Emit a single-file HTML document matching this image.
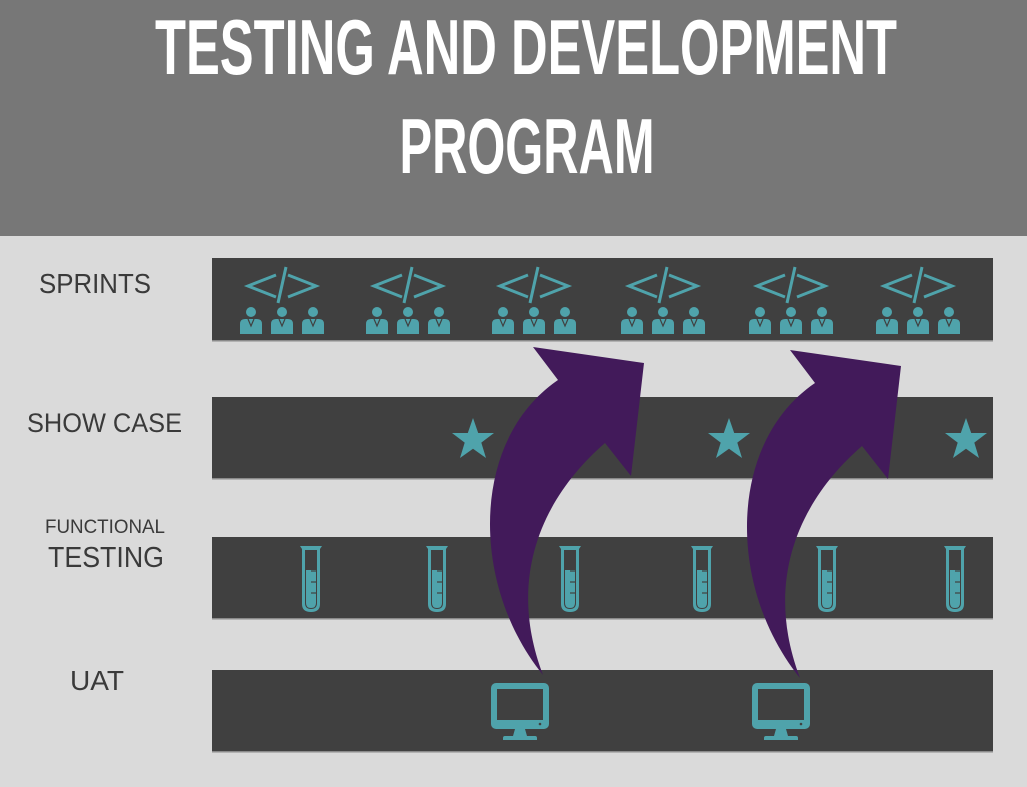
<!DOCTYPE html>
<html><head><meta charset="utf-8"><style>
html,body{margin:0;padding:0;width:1027px;height:787px;overflow:hidden;background:#dadada}
svg{display:block}
</style></head><body>
<svg width="1027" height="787" viewBox="0 0 1027 787" xmlns="http://www.w3.org/2000/svg">
<defs>
<g id="code" fill="none" stroke="#4fa3ab" stroke-width="3">
<polyline points="-6,-22 -34,-11 -6,0"/>
<polyline points="6,-22 34,-11 6,0"/>
<line x1="4" y1="-30" x2="-4" y2="6"/>
</g>
<g id="person" fill="#4fa3ab">
<circle cx="0" cy="-10" r="5"/>
<path d="M-11,12 L-11,2 Q-11,-3 -6,-3 L6,-3 Q11,-3 11,2 L11,12 Z"/>
<path d="M-3,-3 L0,4 L3,-3" fill="none" stroke="#404040" stroke-width="1.2"/>
</g>
<g id="team">
<use href="#code" y="0"/>
<use href="#person" x="-31" y="25"/>
<use href="#person" x="0" y="25"/>
<use href="#person" x="31" y="25"/>
</g>
<polygon id="star" fill="#4fa3ab" points="0,-22 5.2,-7 21,-7 8.3,2.6 13,18 0,8.8 -13,18 -8.3,2.6 -21,-7 -5.2,-7"/>
<g id="tube">
<path d="M-11,-32 L11,-32 L9,-29 L9,26 Q9,34 0,34 Q-9,34 -9,26 L-9,-29 Z" fill="#4fa3ab"/>
<path d="M-6,-28 L6,-28 L6,25 Q6,31 0,31 Q-6,31 -6,25 Z" fill="#404040"/>
<path d="M-5,-8 L5,-8 L5,25 Q5,30 0,30 Q-5,30 -5,25 Z" fill="#4fa3ab"/>
<g stroke="#404040" stroke-width="1.2"><line x1="0" y1="-19" x2="6" y2="-19"/><line x1="0" y1="-7" x2="6" y2="-7"/><line x1="0" y1="4" x2="6" y2="4"/><line x1="0" y1="15" x2="6" y2="15"/></g>
</g>
<g id="mon">
<rect x="-29" y="-29" width="58" height="46" rx="5" fill="#4fa3ab"/>
<rect x="-23" y="-23" width="46" height="31" fill="#404040"/>
<circle cx="20" cy="12" r="1.3" fill="#404040"/>
<path d="M-5,17 L5,17 L7,24 L15,24 Q17,24 17,26 L17,28 L-17,28 L-17,26 Q-17,24 -15,24 L-7,24 Z" fill="#4fa3ab"/>
</g>
<path id="arrow" fill="#421a5a" d="M543,675 C470,585 470,440 558,380 L533,347 L644,363 L631,476 L605,443 C545,495 505,575 543,675 Z"/>
</defs>
<rect x="0" y="0" width="1027" height="236" fill="#777777"/>
<text x="526" y="74" text-anchor="middle" textLength="742" lengthAdjust="spacingAndGlyphs" font-family="Liberation Sans Narrow, Liberation Sans, sans-serif" font-weight="bold" font-size="78" fill="#fff">TESTING AND DEVELOPMENT</text>
<text x="527" y="173" text-anchor="middle" textLength="255" lengthAdjust="spacingAndGlyphs" font-family="Liberation Sans Narrow, Liberation Sans, sans-serif" font-weight="bold" font-size="78" fill="#fff">PROGRAM</text>

<g fill="#404040">
<rect x="212" y="258" width="781" height="83"/>
<rect x="212" y="397" width="781" height="82"/>
<rect x="212" y="537" width="781" height="82"/>
<rect x="212" y="670" width="781" height="82"/>
</g>
<g fill="#8a8a8a">
<rect x="212" y="340" width="781" height="1.5"/>
<rect x="212" y="478" width="781" height="1.5"/>
<rect x="212" y="618" width="781" height="1.5"/>
<rect x="212" y="751" width="781" height="1.5"/>
</g>

<g font-family="Liberation Sans, sans-serif" fill="#3a3a3a">
<text x="39" y="293" font-size="28" textLength="112" lengthAdjust="spacingAndGlyphs">SPRINTS</text>
<text x="27" y="432" font-size="27" textLength="155" lengthAdjust="spacingAndGlyphs">SHOW CASE</text>
<text x="45" y="533" font-size="19" textLength="120" lengthAdjust="spacingAndGlyphs">FUNCTIONAL</text>
<text x="48" y="567" font-size="29" textLength="116" lengthAdjust="spacingAndGlyphs">TESTING</text>
<text x="70" y="690" font-size="28" textLength="54" lengthAdjust="spacingAndGlyphs">UAT</text>
</g>

<use href="#team" x="282" y="297"/>
<use href="#team" x="408" y="297"/>
<use href="#team" x="534" y="297"/>
<use href="#team" x="663" y="297"/>
<use href="#team" x="791" y="297"/>
<use href="#team" x="918" y="297"/>

<use href="#star" x="473" y="440"/>
<use href="#star" x="729" y="440"/>
<use href="#star" x="966" y="440"/>

<use href="#tube" x="311" y="578"/>
<use href="#tube" x="437" y="578"/>
<use href="#tube" x="570" y="578"/>
<use href="#tube" x="702" y="578"/>
<use href="#tube" x="827" y="578"/>
<use href="#tube" x="955" y="578"/>

<use href="#mon" x="520" y="712"/>
<use href="#mon" x="781" y="712"/>

<use href="#arrow"/>
<use href="#arrow" x="257" y="3"/>
</svg>
</body></html>
